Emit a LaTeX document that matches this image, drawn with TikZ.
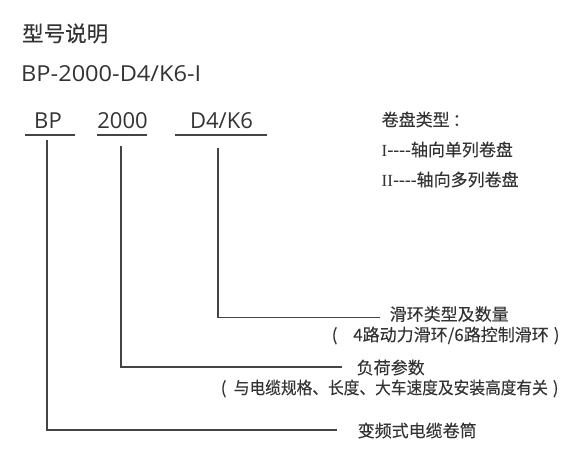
\documentclass[tikz,border=0pt]{standalone}
\usepackage{graphicx}
\usepackage{fontspec}
\setmainfont[FakeBold=0.12]{Noto Sans CJK SC}
\newfontfamily\latinf{Open Sans}
\newfontfamily\romanI{Liberation Serif}
\newcommand{\fitw}[2]{\resizebox{#1}{\height}{#2}}
\definecolor{ink}{HTML}{333333}
\definecolor{rule}{HTML}{444444}
\begin{document}
\begin{tikzpicture}[x=1pt,y=-1pt,
  txt/.style={inner sep=0pt,anchor=base west,text=ink},
  code/.style={inner sep=0pt,anchor=base,text=ink,font=\latinf\fontsize{22}{26}\selectfont},
  lbl/.style={txt,font=\fontsize{17}{20}\selectfont},
  ln/.style={draw=rule,line width=1.3pt},
  ul/.style={draw=rule,line width=1.6pt}]
\useasboundingbox (0,0) rectangle (571,458);
\node[txt,font=\fontsize{21.5}{24}\selectfont] (title) at (22,41.5) {型号说明};
\node[txt,font=\latinf\fontsize{22}{26}\selectfont] (model) at (21,81) {\fitw{180pt}{BP-2000-D4/K6-I}};
% code parts
\node[code] (bp) at (48,128) {BP};
\node[code] (n2000) at (122.5,128) {2000};
\node[code] (d4) at (221.5,128) {D4/K6};
\coordinate (bpL) at (25,135); \coordinate (bpR) at (75,135);
\coordinate (nL) at (97,135); \coordinate (nR) at (147,135);
\coordinate (dL) at (175,135); \coordinate (dR) at (267,135);
\draw[ul] (bpL) -- (bpR);
\draw[ul] (nL) -- (nR);
\draw[ul,line width=2.4pt] (dL) -- (dR);
% type block
\node[lbl] (ty) at (381.5,126) {卷盘类型\kern3pt：};
\node[lbl] (t1) at (381.5,156) {{\romanI I}-{}-{}-{}-轴向单列卷盘};
\node[lbl] (t2) at (381.5,186) {{\romanI II}-{}-{}-{}-轴向多列卷盘};
% labels
\node[lbl] (slip) at (389.5,320.5) {滑环类型及数量};
\node[lbl] (slip2) at (331.5,341) {(\hspace{15.8pt}4路动力滑环/6路控制滑环\hspace{5pt})};
\node[lbl] (load) at (356.5,374) {负荷参数};
\node[lbl] (load2) at (220.5,394) {(\hspace{7.4pt}\fitw{314pt}{与电缆规格、长度、大车速度及安装高度有关}\hspace{5pt})};
\node[lbl] (drum) at (357.5,437) {变频式电缆卷筒};
% connectors
\coordinate (v1) at (47,140); \coordinate (e1) at (337,430);
\coordinate (v2) at (121,146); \coordinate (e2) at (342,367);
\coordinate (v3) at (218,148); \coordinate (e3) at (380,317.5);
\draw[ln,line width=1.9pt] (v1) |- (e1);
\draw[ln] (v2) |- (e2);
\draw[ln] (v3) |- (e3);
\end{tikzpicture}
\end{document}
